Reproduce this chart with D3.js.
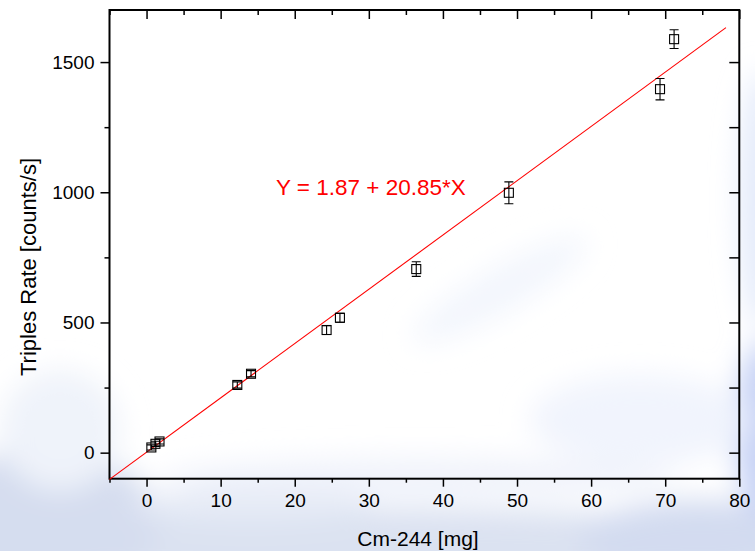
<!DOCTYPE html>
<html><head><meta charset="utf-8">
<script src="https://cdn.jsdelivr.net/npm/d3@7"></script>
<style>
html,body{margin:0;padding:0;background:#fff;}
svg{display:block;font-family:"Liberation Sans",Arial,sans-serif;}
</style></head>
<body><svg id="c" width="755" height="551"></svg>
<script>
// Data
const massMg   = [0.65, 1.2, 1.75, 12.25, 14.1, 24.3, 26.1, 36.4, 48.9, 69.3, 71.2];
const triples  = [20, 34, 43, 260, 303, 471, 518, 705, 998, 1396, 1588];
const triplesErr = [10, 10, 10, 12, 12, 17, 17, 28, 42, 41, 36];
const fitIntercept = 1.87, fitSlope = 20.85;
const fitRange = [-5, 78.2];
const xMajor = [0,10,20,30,40,50,60,70,80];
const xMinor = [-5,5,15,25,35,45,55,65,75];
const yMajor = [0,500,1000,1500];
const yMinor = [250,750,1250];
const xTitle = "Cm-244 [mg]";
const yTitle = "Triples Rate [counts/s]";
const fitLabel = "Y = 1.87 + 20.85*X";

const svg = d3.select("#c");
const L=109.5, R=739.3, T=10, B=478.7;
const x = d3.scaleLinear().domain([-5,80]).range([L,R]);
const y = d3.scaleLinear().domain([-100,1700]).range([B,T]);

// background clouds
const defs = svg.append("defs");
defs.append("filter").attr("id","blur").attr("x","-50%").attr("y","-50%").attr("width","200%").attr("height","200%")
  .append("feGaussianBlur").attr("stdDeviation",14);
defs.append("clipPath").attr("id","clipAll").append("rect").attr("width",755).attr("height",551);
svg.append("rect").attr("width",755).attr("height",551).attr("fill","#ffffff");
const clouds = [
  {cx:380, cy:548, rx:430, ry:40, c:"#dbe2f1"},
  {cx:40,  cy:520, rx:120, ry:70, c:"#d5ddef"},
  {cx:700, cy:540, rx:120, ry:40, c:"#d3dbf0"},
  {cx:765, cy:430, rx:30, ry:90, c:"#c6d2f5"},
  {cx:762, cy:200, rx:22, ry:130, c:"#e3eafa"},
  {cx:500, cy:290, rx:100, ry:22, c:"#f3f6fd", rot:-30},
  {cx:640, cy:420, rx:110, ry:45, c:"#f1f4fd"},
  {cx:420, cy:478, rx:260, ry:20, c:"#f0f3fb"},
  {cx:250, cy:505, rx:120, ry:16, c:"#e6ebf6"},
  {cx:60,  cy:430, rx:60, ry:60, c:"#eff3fa"}
];
svg.append("g").attr("clip-path","url(#clipAll)").append("g").attr("filter","url(#blur)")
  .selectAll("ellipse").data(clouds).join("ellipse")
  .attr("cx",d=>d.cx).attr("cy",d=>d.cy).attr("rx",d=>d.rx).attr("ry",d=>d.ry)
  .attr("transform",d=>d.rot?`rotate(${d.rot},${d.cx},${d.cy})`:null)
  .attr("fill",d=>d.c);

// axes
function styleAxis(g){
  g.select(".domain").remove();
  g.selectAll("line").attr("stroke","#000").attr("stroke-width",1.5);
  g.selectAll("text").attr("fill","#000").attr("font-size","19px").attr("font-family","'Liberation Sans',Arial,sans-serif");
}
const gx = svg.append("g").attr("transform",`translate(0,${B})`)
  .call(d3.axisBottom(x).tickValues(xMajor).tickSize(8).tickPadding(7).tickFormat(d3.format("d")));
styleAxis(gx);
const gxm = svg.append("g").attr("transform",`translate(0,${B})`)
  .call(d3.axisBottom(x).tickValues(xMinor).tickSize(4).tickFormat(""));
styleAxis(gxm);
const gy = svg.append("g").attr("transform",`translate(${L},0)`)
  .call(d3.axisLeft(y).tickValues(yMajor).tickSize(9).tickPadding(6).tickFormat(d3.format("d")));
styleAxis(gy);
const gym = svg.append("g").attr("transform",`translate(${L},0)`)
  .call(d3.axisLeft(y).tickValues(yMinor).tickSize(5).tickFormat(""));
styleAxis(gym);
// top (inward)
const gt = svg.append("g").attr("transform",`translate(0,${T})`)
  .call(d3.axisBottom(x).tickValues(xMajor).tickSize(9).tickFormat(""));
styleAxis(gt);
const gtm = svg.append("g").attr("transform",`translate(0,${T})`)
  .call(d3.axisBottom(x).tickValues(xMinor).tickSize(5).tickFormat(""));
styleAxis(gtm);
// right (inward)
const gr = svg.append("g").attr("transform",`translate(${R},0)`)
  .call(d3.axisLeft(y).tickValues(yMajor.concat(yMinor)).tickSize(10).tickFormat(""));
styleAxis(gr);

// frame
svg.append("rect").attr("x",L).attr("y",T).attr("width",R-L).attr("height",B-T)
  .attr("fill","none").attr("stroke","#000").attr("stroke-width",2);

// fit line
svg.append("line")
  .attr("x1",x(fitRange[0])).attr("y1",y(fitIntercept+fitSlope*fitRange[0]))
  .attr("x2",x(fitRange[1])).attr("y2",y(fitIntercept+fitSlope*fitRange[1]))
  .attr("stroke","#ff0000").attr("stroke-width",1.1);

// points with error bars
const pts = massMg.map((m,i)=>({x:m,y:triples[i],e:triplesErr[i]}));
const gp = svg.append("g");
const cap = 4.5, half = 4.5;
gp.selectAll("path.eb").data(pts).join("path").attr("class","eb")
  .attr("d",d=>{const cx=x(d.x), y1=y(d.y+d.e), y2=y(d.y-d.e);
    return `M${cx},${y1}V${y2}M${cx-cap},${y1}H${cx+cap}M${cx-cap},${y2}H${cx+cap}`;})
  .attr("stroke","#000").attr("stroke-width",1.1).attr("fill","none");
gp.selectAll("rect.pt").data(pts).join("rect").attr("class","pt")
  .attr("x",d=>x(d.x)-half).attr("y",d=>y(d.y)-half).attr("width",2*half).attr("height",2*half)
  .attr("fill","none").attr("stroke","#000").attr("stroke-width",1.1);

// titles
svg.append("text").attr("x",418).attr("y",546).attr("text-anchor","middle")
  .attr("font-size","21px").attr("fill","#000").text(xTitle);
svg.append("text").attr("transform","translate(36,267) rotate(-90)").attr("text-anchor","middle")
  .attr("font-size","22px").attr("fill","#000").text(yTitle);
svg.append("text").attr("x",276).attr("y",195).attr("font-size","22.5px").attr("fill","#ff0000").text(fitLabel);
</script></body></html>
